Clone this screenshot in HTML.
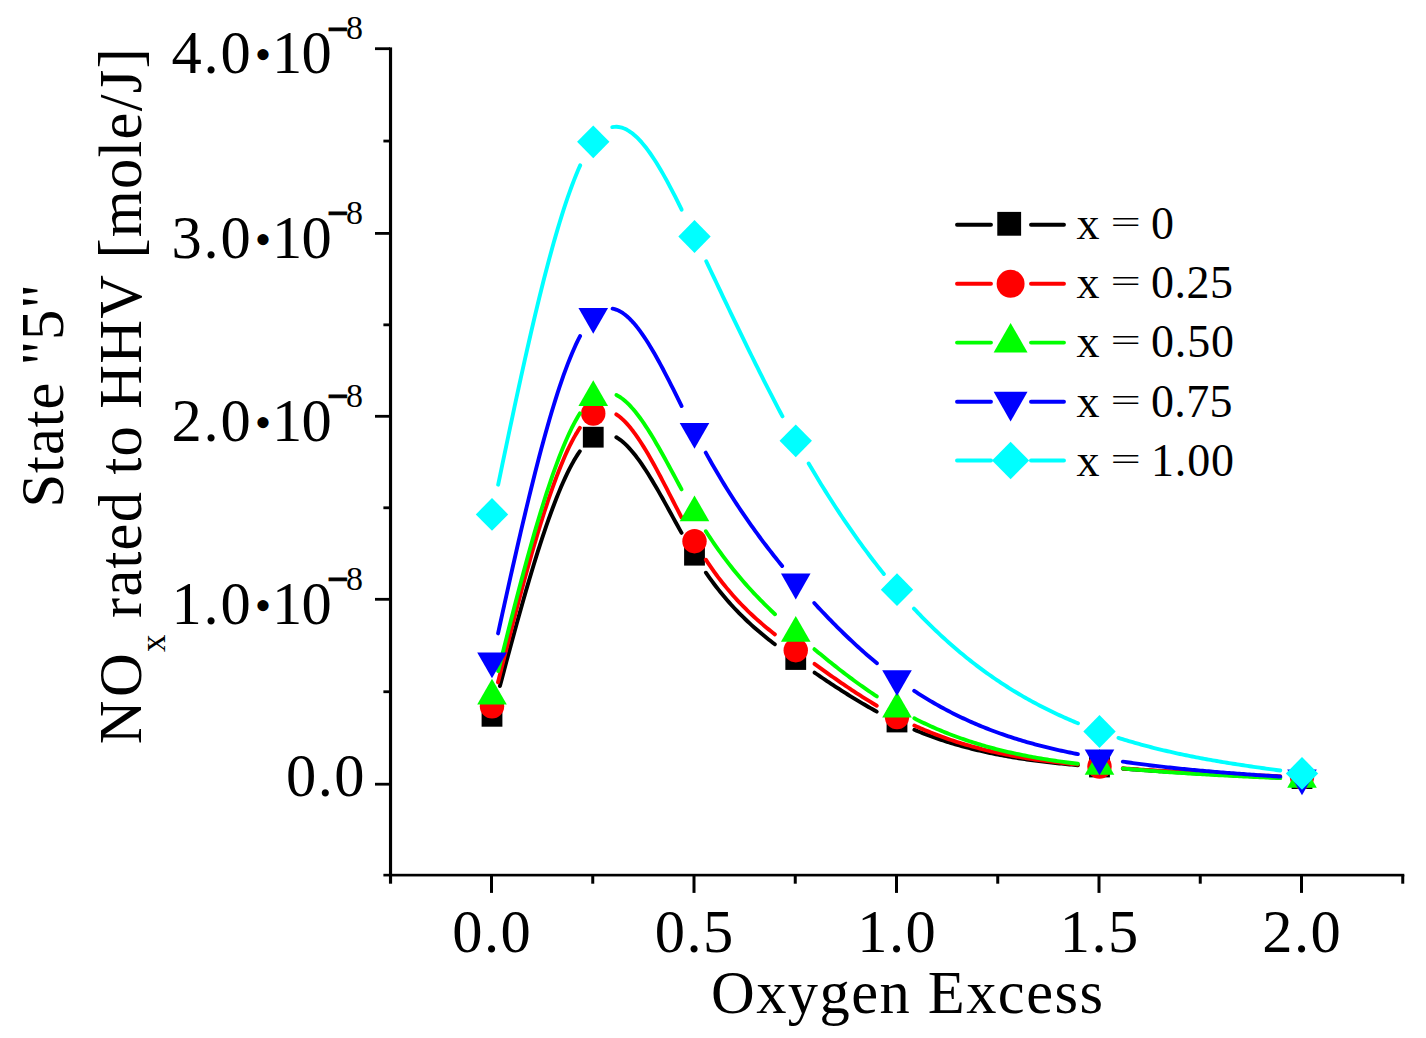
<!DOCTYPE html>
<html><head><meta charset="utf-8"><title>NOx rated to HHV vs Oxygen Excess</title>
<style>html,body{margin:0;padding:0;background:#fff;}body{width:1426px;height:1038px;overflow:hidden;font-family:"Liberation Serif",serif;}</style>
</head><body>
<svg width="1426" height="1038" viewBox="0 0 1426 1038" style="display:block">
<rect width="1426" height="1038" fill="#fff"/>
<g><rect x="388.95" y="47.4" width="3.15" height="836.3" fill="#000"/><rect x="383.4" y="873.8" width="1020.9" height="2.65" fill="#000"/><rect x="375" y="782.8" width="15" height="2.8" fill="#000"/><rect x="383.4" y="690.35" width="6" height="2.8" fill="#000"/><rect x="375" y="597.9" width="15" height="2.8" fill="#000"/><rect x="383.4" y="506.4" width="6" height="2.8" fill="#000"/><rect x="375" y="414.9" width="15" height="2.8" fill="#000"/><rect x="383.4" y="323.45" width="6" height="2.8" fill="#000"/><rect x="375" y="232" width="15" height="2.8" fill="#000"/><rect x="383.4" y="139.65" width="6" height="2.8" fill="#000"/><rect x="375" y="47.3" width="15" height="2.8" fill="#000"/><rect x="490" y="875" width="3" height="17.9" fill="#000"/><rect x="692.5" y="875" width="3" height="17.9" fill="#000"/><rect x="895" y="875" width="3" height="17.9" fill="#000"/><rect x="1097.5" y="875" width="3" height="17.9" fill="#000"/><rect x="1300" y="875" width="3" height="17.9" fill="#000"/><rect x="591.25" y="875" width="3" height="8.7" fill="#000"/><rect x="793.75" y="875" width="3" height="8.7" fill="#000"/><rect x="996.25" y="875" width="3" height="8.7" fill="#000"/><rect x="1198.75" y="875" width="3" height="8.7" fill="#000"/><rect x="1401.25" y="875" width="3" height="8.7" fill="#000"/></g>
<g><g fill="none" stroke-width="3.9" stroke-linecap="round" stroke-linejoin="round"><path d="M499.94,686.11 L502.04,678.15 L504.14,670.22 L506.24,662.32 L508.35,654.46 L510.45,646.64 L512.55,638.88 L514.66,631.17 L516.76,623.52 L518.86,615.94 L520.97,608.43 L523.07,601 L525.17,593.66 L527.27,586.4 L529.38,579.24 L531.48,572.19 L533.58,565.24 L535.69,558.41 L537.79,551.69 L539.89,545.1 L542,538.64 L544.1,532.32 L546.2,526.14 L548.3,520.11 L550.41,514.23 L552.51,508.51 L554.61,502.95 L556.72,497.57 L558.82,492.36 L560.92,487.33 L563.02,482.5 L565.13,477.85 L567.23,473.41 L569.33,469.17 L571.44,465.14 L573.54,461.33 L575.64,457.74 L577.75,454.38 L579.85,451.25" stroke="#000000"/><path d="M616.34,437.25 L618.44,438.58 L620.55,440.09 L622.65,441.78 L624.75,443.65 L626.86,445.68 L628.96,447.87 L631.06,450.21 L633.17,452.7 L635.27,455.33 L637.37,458.08 L639.48,460.96 L641.58,463.95 L643.69,467.05 L645.79,470.25 L647.89,473.54 L650,476.92 L652.1,480.38 L654.2,483.91 L656.31,487.5 L658.41,491.15 L660.51,494.84 L662.62,498.58 L664.72,502.35 L666.82,506.15 L668.93,509.97 L671.03,513.8 L673.13,517.64 L675.24,521.47 L677.34,525.3 L679.44,529.1 L681.55,532.89" stroke="#000000"/><path d="M705.9,572.71 L707.99,575.7 L710.08,578.62 L712.17,581.47 L714.26,584.26 L716.35,586.98 L718.44,589.65 L720.53,592.26 L722.61,594.81 L724.7,597.3 L726.79,599.74 L728.88,602.13 L730.97,604.46 L733.06,606.75 L735.15,608.99 L737.24,611.18 L739.33,613.32 L741.42,615.42 L743.51,617.48 L745.6,619.5 L747.68,621.48 L749.77,623.42 L751.86,625.32 L753.95,627.19 L756.04,629.02 L758.13,630.82 L760.22,632.6 L762.31,634.34 L764.4,636.05 L766.49,637.74 L768.58,639.41 L770.67,641.05 L772.75,642.67 L774.84,644.27" stroke="#000000"/><path d="M814.51,672.59 L816.58,674.02 L818.66,675.43 L820.73,676.84 L822.81,678.25 L824.89,679.64 L826.96,681.03 L829.04,682.42 L831.11,683.79 L833.19,685.16 L835.27,686.52 L837.34,687.87 L839.42,689.21 L841.49,690.54 L843.57,691.86 L845.65,693.18 L847.72,694.48 L849.8,695.78 L851.87,697.06 L853.95,698.34 L856.03,699.6 L858.1,700.85 L860.18,702.1 L862.25,703.33 L864.33,704.54 L866.41,705.75 L868.48,706.95 L870.56,708.13 L872.63,709.3 L874.71,710.45 L876.79,711.6" stroke="#000000"/><path d="M914.4,729.8 L916.44,730.65 L918.48,731.48 L920.52,732.3 L922.57,733.11 L924.61,733.9 L926.65,734.68 L928.7,735.45 L930.74,736.2 L932.78,736.94 L934.83,737.67 L936.87,738.39 L938.91,739.09 L940.96,739.78 L943,740.46 L945.04,741.12 L947.09,741.77 L949.13,742.42 L951.17,743.05 L953.22,743.67 L955.26,744.27 L957.3,744.87 L959.35,745.45 L961.39,746.03 L963.43,746.59 L965.48,747.14 L967.52,747.69 L969.56,748.22 L971.61,748.74 L973.65,749.25 L975.69,749.75 L977.74,750.24 L979.78,750.72 L981.82,751.2 L983.87,751.66 L985.91,752.11 L987.95,752.56 L990,752.99 L992.04,753.42 L994.08,753.84 L996.13,754.25 L998.17,754.65 L1000.21,755.04 L1002.26,755.42 L1004.3,755.8 L1006.34,756.17 L1008.39,756.53 L1010.43,756.88 L1012.47,757.23 L1014.52,757.57 L1016.56,757.9 L1018.6,758.22 L1020.65,758.54 L1022.69,758.85 L1024.73,759.15 L1026.78,759.45 L1028.82,759.74 L1030.86,760.03 L1032.91,760.31 L1034.95,760.58 L1036.99,760.85 L1039.04,761.11 L1041.08,761.37 L1043.12,761.62 L1045.16,761.86 L1047.21,762.11 L1049.25,762.34 L1051.29,762.57 L1053.34,762.8 L1055.38,763.02 L1057.42,763.24 L1059.47,763.45 L1061.51,763.66 L1063.55,763.87 L1065.6,764.07 L1067.64,764.27 L1069.68,764.46 L1071.73,764.66 L1073.77,764.84 L1075.81,765.03 L1077.86,765.21" stroke="#000000"/><path d="M1122.84,768.74 L1124.89,768.89 L1126.93,769.03 L1128.98,769.17 L1131.02,769.31 L1133.07,769.46 L1135.11,769.6 L1137.15,769.73 L1139.2,769.87 L1141.24,770.01 L1143.29,770.14 L1145.33,770.28 L1147.38,770.41 L1149.42,770.54 L1151.46,770.68 L1153.51,770.81 L1155.55,770.94 L1157.6,771.06 L1159.64,771.19 L1161.69,771.32 L1163.73,771.44 L1165.77,771.57 L1167.82,771.69 L1169.86,771.82 L1171.91,771.94 L1173.95,772.06 L1176,772.18 L1178.04,772.3 L1180.08,772.42 L1182.13,772.54 L1184.17,772.66 L1186.22,772.78 L1188.26,772.89 L1190.31,773.01 L1192.35,773.12 L1194.39,773.24 L1196.44,773.35 L1198.48,773.46 L1200.53,773.58 L1202.57,773.69 L1204.61,773.8 L1206.66,773.91 L1208.7,774.02 L1210.75,774.13 L1212.79,774.24 L1214.84,774.34 L1216.88,774.45 L1218.92,774.56 L1220.97,774.66 L1223.01,774.77 L1225.06,774.88 L1227.1,774.98 L1229.15,775.08 L1231.19,775.19 L1233.23,775.29 L1235.28,775.39 L1237.32,775.5 L1239.37,775.6 L1241.41,775.7 L1243.46,775.8 L1245.5,775.9 L1247.54,776 L1249.59,776.1 L1251.63,776.2 L1253.68,776.3 L1255.72,776.4 L1257.77,776.5 L1259.81,776.6 L1261.85,776.7 L1263.9,776.8 L1265.94,776.9 L1267.99,776.99 L1270.03,777.09 L1272.08,777.19 L1274.12,777.29 L1276.16,777.38 L1278.21,777.48 L1280.25,777.58" stroke="#000000"/></g><rect x="481.6" y="705.9" width="20.8" height="20.8" fill="#000000"/><rect x="582.85" y="426.8" width="20.8" height="20.8" fill="#000000"/><rect x="684.1" y="544.8" width="20.8" height="20.8" fill="#000000"/><rect x="785.35" y="649.1" width="20.8" height="20.8" fill="#000000"/><rect x="886.6" y="711.6" width="20.8" height="20.8" fill="#000000"/><rect x="1089.1" y="756.6" width="20.8" height="20.8" fill="#000000"/><rect x="1291.6" y="768.2" width="20.8" height="20.8" fill="#000000"/><g fill="none" stroke-width="3.9" stroke-linecap="round" stroke-linejoin="round"><path d="M497.99,682.31 L500.09,673.92 L502.19,665.56 L504.29,657.22 L506.39,648.92 L508.49,640.66 L510.59,632.45 L512.68,624.3 L514.78,616.2 L516.88,608.17 L518.98,600.21 L521.08,592.33 L523.18,584.53 L525.28,576.82 L527.38,569.21 L529.48,561.7 L531.58,554.3 L533.68,547.01 L535.78,539.85 L537.88,532.81 L539.98,525.9 L542.08,519.13 L544.18,512.51 L546.28,506.03 L548.38,499.72 L550.48,493.56 L552.58,487.58 L554.68,481.77 L556.78,476.14 L558.88,470.7 L560.98,465.45 L563.08,460.4 L565.18,455.56 L567.28,450.92 L569.38,446.51 L571.48,442.32 L573.58,438.36 L575.68,434.63 L577.78,431.14 L579.88,427.91" stroke="#ff0000"/><path d="M616.29,414.34 L618.4,415.81 L620.51,417.49 L622.61,419.35 L624.72,421.4 L626.83,423.63 L628.93,426.02 L631.04,428.58 L633.15,431.29 L635.25,434.14 L637.36,437.13 L639.46,440.25 L641.57,443.49 L643.68,446.84 L645.78,450.3 L647.89,453.86 L650,457.5 L652.1,461.23 L654.21,465.03 L656.32,468.9 L658.42,472.82 L660.53,476.79 L662.63,480.81 L664.74,484.86 L666.85,488.94 L668.95,493.03 L671.06,497.14 L673.17,501.25 L675.27,505.35 L677.38,509.44 L679.49,513.51 L681.59,517.55" stroke="#ff0000"/><path d="M705.86,559.68 L707.95,562.83 L710.04,565.91 L712.13,568.92 L714.22,571.86 L716.32,574.73 L718.41,577.54 L720.5,580.27 L722.59,582.95 L724.68,585.57 L726.77,588.12 L728.86,590.62 L730.95,593.06 L733.04,595.45 L735.13,597.79 L737.23,600.07 L739.32,602.31 L741.41,604.49 L743.5,606.63 L745.59,608.73 L747.68,610.79 L749.77,612.8 L751.86,614.77 L753.95,616.71 L756.04,618.61 L758.14,620.48 L760.23,622.32 L762.32,624.12 L764.41,625.9 L766.5,627.65 L768.59,629.37 L770.68,631.07 L772.77,632.74 L774.86,634.4" stroke="#ff0000"/><path d="M814.48,663.93 L816.56,665.43 L818.63,666.93 L820.71,668.43 L822.79,669.92 L824.87,671.4 L826.95,672.88 L829.02,674.35 L831.1,675.81 L833.18,677.27 L835.26,678.72 L837.34,680.16 L839.41,681.6 L841.49,683.03 L843.57,684.44 L845.65,685.85 L847.73,687.25 L849.8,688.64 L851.88,690.02 L853.96,691.4 L856.04,692.76 L858.12,694.11 L860.19,695.44 L862.27,696.77 L864.35,698.09 L866.43,699.39 L868.51,700.68 L870.58,701.96 L872.66,703.23 L874.74,704.48 L876.82,705.72" stroke="#ff0000"/><path d="M914.37,725.49 L916.41,726.42 L918.46,727.33 L920.5,728.23 L922.54,729.11 L924.59,729.98 L926.63,730.83 L928.67,731.67 L930.72,732.5 L932.76,733.31 L934.81,734.11 L936.85,734.89 L938.89,735.67 L940.94,736.42 L942.98,737.17 L945.02,737.9 L947.07,738.62 L949.11,739.33 L951.15,740.02 L953.2,740.7 L955.24,741.37 L957.29,742.03 L959.33,742.67 L961.37,743.31 L963.42,743.93 L965.46,744.54 L967.5,745.14 L969.55,745.72 L971.59,746.3 L973.63,746.87 L975.68,747.42 L977.72,747.96 L979.77,748.5 L981.81,749.02 L983.85,749.53 L985.9,750.04 L987.94,750.53 L989.98,751.01 L992.03,751.49 L994.07,751.95 L996.11,752.41 L998.16,752.85 L1000.2,753.29 L1002.24,753.71 L1004.29,754.13 L1006.33,754.54 L1008.38,754.94 L1010.42,755.34 L1012.46,755.72 L1014.51,756.1 L1016.55,756.47 L1018.59,756.83 L1020.64,757.18 L1022.68,757.53 L1024.72,757.87 L1026.77,758.2 L1028.81,758.52 L1030.86,758.84 L1032.9,759.15 L1034.94,759.46 L1036.99,759.76 L1039.03,760.05 L1041.07,760.33 L1043.12,760.61 L1045.16,760.89 L1047.2,761.15 L1049.25,761.41 L1051.29,761.67 L1053.34,761.92 L1055.38,762.17 L1057.42,762.41 L1059.47,762.65 L1061.51,762.88 L1063.55,763.1 L1065.6,763.33 L1067.64,763.55 L1069.68,763.76 L1071.73,763.97 L1073.77,764.18 L1075.82,764.38 L1077.86,764.58" stroke="#ff0000"/><path d="M1122.84,768.31 L1124.89,768.46 L1126.93,768.6 L1128.98,768.75 L1131.02,768.89 L1133.07,769.03 L1135.11,769.17 L1137.15,769.31 L1139.2,769.44 L1141.24,769.58 L1143.29,769.71 L1145.33,769.84 L1147.38,769.97 L1149.42,770.1 L1151.46,770.23 L1153.51,770.36 L1155.55,770.48 L1157.6,770.6 L1159.64,770.73 L1161.69,770.85 L1163.73,770.97 L1165.77,771.08 L1167.82,771.2 L1169.86,771.32 L1171.91,771.43 L1173.95,771.54 L1176,771.65 L1178.04,771.76 L1180.08,771.87 L1182.13,771.98 L1184.17,772.09 L1186.22,772.2 L1188.26,772.3 L1190.3,772.4 L1192.35,772.51 L1194.39,772.61 L1196.44,772.71 L1198.48,772.81 L1200.53,772.91 L1202.57,773.01 L1204.61,773.1 L1206.66,773.2 L1208.7,773.29 L1210.75,773.39 L1212.79,773.48 L1214.84,773.57 L1216.88,773.66 L1218.92,773.76 L1220.97,773.85 L1223.01,773.93 L1225.06,774.02 L1227.1,774.11 L1229.15,774.2 L1231.19,774.28 L1233.23,774.37 L1235.28,774.46 L1237.32,774.54 L1239.37,774.62 L1241.41,774.71 L1243.45,774.79 L1245.5,774.87 L1247.54,774.95 L1249.59,775.03 L1251.63,775.12 L1253.68,775.2 L1255.72,775.28 L1257.76,775.35 L1259.81,775.43 L1261.85,775.51 L1263.9,775.59 L1265.94,775.67 L1267.99,775.74 L1270.03,775.82 L1272.07,775.9 L1274.12,775.98 L1276.16,776.05 L1278.21,776.13 L1280.25,776.2" stroke="#ff0000"/></g><circle cx="492" cy="706.3" r="12.2" fill="#ff0000"/><circle cx="593.25" cy="413.5" r="12.2" fill="#ff0000"/><circle cx="694.5" cy="541.2" r="12.2" fill="#ff0000"/><circle cx="795.75" cy="650.2" r="12.2" fill="#ff0000"/><circle cx="897" cy="717" r="12.2" fill="#ff0000"/><circle cx="1099.5" cy="766.5" r="12.2" fill="#ff0000"/><circle cx="1302" cy="777" r="12.2" fill="#ff0000"/><g fill="none" stroke-width="3.9" stroke-linecap="round" stroke-linejoin="round"><path d="M498.18,671.11 L500.28,662.69 L502.37,654.3 L504.47,645.93 L506.56,637.6 L508.66,629.32 L510.76,621.07 L512.85,612.88 L514.95,604.75 L517.04,596.68 L519.14,588.68 L521.24,580.76 L523.33,572.92 L525.43,565.17 L527.53,557.51 L529.62,549.94 L531.72,542.49 L533.81,535.14 L535.91,527.91 L538.01,520.8 L540.1,513.82 L542.2,506.98 L544.29,500.27 L546.39,493.71 L548.49,487.31 L550.58,481.06 L552.68,474.97 L554.77,469.05 L556.87,463.31 L558.97,457.75 L561.06,452.37 L563.16,447.19 L565.26,442.2 L567.35,437.42 L569.45,432.85 L571.54,428.49 L573.64,424.36 L575.74,420.45 L577.83,416.78 L579.93,413.35" stroke="#00ff00"/><path d="M616.4,395.02 L618.5,396.17 L620.61,397.51 L622.71,399.04 L624.81,400.76 L626.91,402.64 L629.02,404.7 L631.12,406.92 L633.22,409.29 L635.32,411.8 L637.42,414.46 L639.53,417.24 L641.63,420.15 L643.73,423.18 L645.83,426.32 L647.94,429.56 L650.04,432.89 L652.14,436.31 L654.24,439.82 L656.34,443.39 L658.45,447.03 L660.55,450.74 L662.65,454.49 L664.75,458.29 L666.85,462.12 L668.96,465.99 L671.06,469.87 L673.16,473.78 L675.26,477.69 L677.37,481.6 L679.47,485.5 L681.57,489.39" stroke="#00ff00"/><path d="M705.85,531.2 L707.94,534.44 L710.04,537.62 L712.13,540.75 L714.22,543.82 L716.32,546.84 L718.41,549.81 L720.51,552.72 L722.6,555.58 L724.7,558.4 L726.79,561.16 L728.89,563.88 L730.98,566.56 L733.08,569.19 L735.17,571.77 L737.27,574.32 L739.36,576.82 L741.46,579.28 L743.55,581.71 L745.65,584.1 L747.74,586.45 L749.84,588.76 L751.93,591.05 L754.03,593.3 L756.12,595.51 L758.22,597.7 L760.31,599.86 L762.41,601.99 L764.5,604.1 L766.6,606.18 L768.69,608.23 L770.79,610.26 L772.88,612.27 L774.98,614.26" stroke="#00ff00"/><path d="M814.39,649.14 L816.47,650.89 L818.55,652.63 L820.64,654.36 L822.72,656.07 L824.8,657.78 L826.89,659.47 L828.97,661.16 L831.05,662.83 L833.13,664.5 L835.22,666.15 L837.3,667.78 L839.38,669.41 L841.46,671.03 L843.55,672.63 L845.63,674.22 L847.71,675.8 L849.79,677.36 L851.88,678.91 L853.96,680.45 L856.04,681.97 L858.12,683.49 L860.21,684.98 L862.29,686.46 L864.37,687.93 L866.45,689.39 L868.54,690.82 L870.62,692.25 L872.7,693.66 L874.78,695.05 L876.87,696.43" stroke="#00ff00"/><path d="M914.33,718.35 L916.38,719.39 L918.42,720.41 L920.46,721.41 L922.51,722.4 L924.55,723.38 L926.6,724.34 L928.64,725.28 L930.68,726.21 L932.73,727.13 L934.77,728.03 L936.82,728.92 L938.86,729.79 L940.91,730.65 L942.95,731.49 L944.99,732.32 L947.04,733.14 L949.08,733.95 L951.13,734.74 L953.17,735.51 L955.21,736.28 L957.26,737.03 L959.3,737.77 L961.35,738.49 L963.39,739.2 L965.44,739.9 L967.48,740.59 L969.52,741.27 L971.57,741.93 L973.61,742.59 L975.66,743.23 L977.7,743.86 L979.74,744.48 L981.79,745.08 L983.83,745.68 L985.88,746.27 L987.92,746.84 L989.97,747.41 L992.01,747.96 L994.05,748.5 L996.1,749.04 L998.14,749.56 L1000.19,750.07 L1002.23,750.58 L1004.27,751.07 L1006.32,751.56 L1008.36,752.03 L1010.41,752.5 L1012.45,752.96 L1014.5,753.41 L1016.54,753.85 L1018.58,754.28 L1020.63,754.7 L1022.67,755.12 L1024.72,755.53 L1026.76,755.93 L1028.8,756.32 L1030.85,756.7 L1032.89,757.08 L1034.94,757.45 L1036.98,757.81 L1039.02,758.17 L1041.07,758.51 L1043.11,758.86 L1045.16,759.19 L1047.2,759.52 L1049.25,759.84 L1051.29,760.16 L1053.33,760.47 L1055.38,760.77 L1057.42,761.07 L1059.47,761.36 L1061.51,761.65 L1063.55,761.93 L1065.6,762.21 L1067.64,762.48 L1069.69,762.75 L1071.73,763.01 L1073.78,763.27 L1075.82,763.53 L1077.86,763.78" stroke="#00ff00"/><path d="M1122.84,768.47 L1124.89,768.66 L1126.93,768.84 L1128.97,769.02 L1131.02,769.2 L1133.06,769.38 L1135.11,769.55 L1137.15,769.72 L1139.2,769.89 L1141.24,770.06 L1143.28,770.23 L1145.33,770.39 L1147.37,770.55 L1149.42,770.72 L1151.46,770.87 L1153.51,771.03 L1155.55,771.18 L1157.59,771.34 L1159.64,771.49 L1161.68,771.64 L1163.73,771.79 L1165.77,771.93 L1167.82,772.08 L1169.86,772.22 L1171.9,772.36 L1173.95,772.5 L1175.99,772.64 L1178.04,772.77 L1180.08,772.91 L1182.13,773.04 L1184.17,773.17 L1186.21,773.3 L1188.26,773.43 L1190.3,773.56 L1192.35,773.68 L1194.39,773.81 L1196.44,773.93 L1198.48,774.05 L1200.52,774.17 L1202.57,774.29 L1204.61,774.41 L1206.66,774.53 L1208.7,774.64 L1210.75,774.76 L1212.79,774.87 L1214.83,774.98 L1216.88,775.1 L1218.92,775.21 L1220.97,775.32 L1223.01,775.42 L1225.06,775.53 L1227.1,775.64 L1229.14,775.74 L1231.19,775.85 L1233.23,775.95 L1235.28,776.05 L1237.32,776.16 L1239.37,776.26 L1241.41,776.36 L1243.45,776.46 L1245.5,776.56 L1247.54,776.65 L1249.59,776.75 L1251.63,776.85 L1253.68,776.94 L1255.72,777.04 L1257.76,777.13 L1259.81,777.23 L1261.85,777.32 L1263.9,777.42 L1265.94,777.51 L1267.99,777.6 L1270.03,777.69 L1272.07,777.79 L1274.12,777.88 L1276.16,777.97 L1278.21,778.06 L1280.25,778.15" stroke="#00ff00"/></g><polygon points="492,678.8 477.2,704.6 506.8,704.6" fill="#00ff00"/><polygon points="593.25,380.3 578.45,406.1 608.05,406.1" fill="#00ff00"/><polygon points="694.5,495.4 679.7,521.2 709.3,521.2" fill="#00ff00"/><polygon points="795.75,615.9 780.95,641.7 810.55,641.7" fill="#00ff00"/><polygon points="897,691.7 882.2,717.5 911.8,717.5" fill="#00ff00"/><polygon points="1099.5,749 1084.7,774.8 1114.3,774.8" fill="#00ff00"/><polygon points="1302,761.9 1287.2,787.7 1316.8,787.7" fill="#00ff00"/><g fill="none" stroke-width="3.9" stroke-linecap="round" stroke-linejoin="round"><path d="M498.05,633.4 L500.1,624.03 L502.15,614.69 L504.2,605.37 L506.25,596.1 L508.3,586.86 L510.35,577.67 L512.4,568.54 L514.45,559.46 L516.5,550.45 L518.55,541.51 L520.6,532.65 L522.65,523.87 L524.71,515.19 L526.76,506.59 L528.81,498.1 L530.86,489.71 L532.91,481.44 L534.96,473.29 L537.01,465.26 L539.06,457.36 L541.11,449.6 L543.16,441.98 L545.21,434.51 L547.26,427.2 L549.31,420.05 L551.36,413.06 L553.41,406.24 L555.46,399.61 L557.51,393.16 L559.56,386.9 L561.62,380.84 L563.67,374.98 L565.72,369.32 L567.77,363.89 L569.82,358.67 L571.87,353.68 L573.92,348.92 L575.97,344.4 L578.02,340.12 L580.07,336.1" stroke="#0000ff"/><path d="M612.55,308.66 L614.64,309.12 L616.73,309.82 L618.83,310.73 L620.92,311.87 L623.01,313.22 L625.11,314.76 L627.2,316.51 L629.29,318.44 L631.39,320.55 L633.48,322.83 L635.58,325.28 L637.67,327.88 L639.76,330.64 L641.86,333.54 L643.95,336.58 L646.04,339.74 L648.14,343.03 L650.23,346.43 L652.32,349.93 L654.42,353.54 L656.51,357.23 L658.6,361.01 L660.7,364.87 L662.79,368.79 L664.88,372.78 L666.98,376.83 L669.07,380.92 L671.17,385.05 L673.26,389.21 L675.35,393.4 L677.45,397.6 L679.54,401.82 L681.63,406.04" stroke="#0000ff"/><path d="M705.74,452.66 L707.8,456.38 L709.87,460.06 L711.93,463.69 L714,467.28 L716.07,470.83 L718.13,474.34 L720.2,477.81 L722.26,481.24 L724.33,484.62 L726.39,487.97 L728.46,491.28 L730.52,494.55 L732.59,497.79 L734.66,500.99 L736.72,504.15 L738.79,507.28 L740.85,510.37 L742.92,513.43 L744.98,516.46 L747.05,519.45 L749.11,522.41 L751.18,525.34 L753.25,528.24 L755.31,531.11 L757.38,533.95 L759.44,536.77 L761.51,539.55 L763.57,542.31 L765.64,545.04 L767.7,547.74 L769.77,550.42 L771.84,553.07 L773.9,555.7 L775.97,558.31 L778.03,560.89 L780.1,563.45 L782.16,565.99" stroke="#0000ff"/><path d="M814.21,603.02 L816.31,605.3 L818.4,607.56 L820.49,609.79 L822.58,612.02 L824.68,614.22 L826.77,616.4 L828.86,618.57 L830.95,620.72 L833.05,622.85 L835.14,624.96 L837.23,627.06 L839.32,629.13 L841.42,631.19 L843.51,633.23 L845.6,635.25 L847.69,637.25 L849.79,639.24 L851.88,641.2 L853.97,643.15 L856.07,645.07 L858.16,646.98 L860.25,648.87 L862.34,650.74 L864.44,652.59 L866.53,654.42 L868.62,656.24 L870.71,658.03 L872.81,659.81 L874.9,661.56 L876.99,663.3" stroke="#0000ff"/><path d="M914.22,690.88 L916.27,692.22 L918.32,693.54 L920.36,694.84 L922.41,696.13 L924.45,697.39 L926.5,698.64 L928.54,699.88 L930.59,701.09 L932.64,702.29 L934.68,703.47 L936.73,704.64 L938.77,705.79 L940.82,706.92 L942.86,708.04 L944.91,709.15 L946.96,710.23 L949,711.3 L951.05,712.36 L953.09,713.4 L955.14,714.42 L957.18,715.43 L959.23,716.43 L961.28,717.41 L963.32,718.38 L965.37,719.33 L967.41,720.27 L969.46,721.19 L971.51,722.1 L973.55,723 L975.6,723.88 L977.64,724.75 L979.69,725.61 L981.73,726.45 L983.78,727.28 L985.83,728.1 L987.87,728.91 L989.92,729.7 L991.96,730.48 L994.01,731.25 L996.05,732.01 L998.1,732.75 L1000.15,733.48 L1002.19,734.2 L1004.24,734.91 L1006.28,735.61 L1008.33,736.3 L1010.37,736.97 L1012.42,737.64 L1014.47,738.29 L1016.51,738.94 L1018.56,739.57 L1020.6,740.2 L1022.65,740.81 L1024.69,741.41 L1026.74,742.01 L1028.79,742.59 L1030.83,743.16 L1032.88,743.73 L1034.92,744.29 L1036.97,744.83 L1039.02,745.37 L1041.06,745.9 L1043.11,746.42 L1045.15,746.94 L1047.2,747.44 L1049.24,747.94 L1051.29,748.42 L1053.34,748.9 L1055.38,749.38 L1057.43,749.84 L1059.47,750.3 L1061.52,750.75 L1063.56,751.2 L1065.61,751.63 L1067.66,752.06 L1069.7,752.49 L1071.75,752.9 L1073.79,753.31 L1075.84,753.72 L1077.88,754.12" stroke="#0000ff"/><path d="M1122.83,761.64 L1124.87,761.93 L1126.92,762.22 L1128.96,762.51 L1131.01,762.79 L1133.05,763.07 L1135.1,763.35 L1137.14,763.62 L1139.19,763.89 L1141.23,764.16 L1143.27,764.42 L1145.32,764.68 L1147.36,764.94 L1149.41,765.19 L1151.45,765.44 L1153.5,765.69 L1155.54,765.93 L1157.59,766.17 L1159.63,766.41 L1161.67,766.64 L1163.72,766.87 L1165.76,767.1 L1167.81,767.33 L1169.85,767.55 L1171.9,767.77 L1173.94,767.99 L1175.99,768.2 L1178.03,768.41 L1180.07,768.62 L1182.12,768.83 L1184.16,769.03 L1186.21,769.24 L1188.25,769.43 L1190.3,769.63 L1192.34,769.83 L1194.39,770.02 L1196.43,770.21 L1198.48,770.4 L1200.52,770.58 L1202.56,770.77 L1204.61,770.95 L1206.65,771.13 L1208.7,771.3 L1210.74,771.48 L1212.79,771.65 L1214.83,771.82 L1216.88,771.99 L1218.92,772.16 L1220.96,772.33 L1223.01,772.49 L1225.05,772.66 L1227.1,772.82 L1229.14,772.98 L1231.19,773.14 L1233.23,773.29 L1235.28,773.45 L1237.32,773.6 L1239.36,773.76 L1241.41,773.91 L1243.45,774.06 L1245.5,774.21 L1247.54,774.35 L1249.59,774.5 L1251.63,774.65 L1253.68,774.79 L1255.72,774.93 L1257.76,775.08 L1259.81,775.22 L1261.85,775.36 L1263.9,775.5 L1265.94,775.64 L1267.99,775.77 L1270.03,775.91 L1272.08,776.05 L1274.12,776.18 L1276.17,776.32 L1278.21,776.45 L1280.25,776.59" stroke="#0000ff"/></g><polygon points="492,678.3 477.2,652.5 506.8,652.5" fill="#0000ff"/><polygon points="593.25,333.8 578.45,308 608.05,308" fill="#0000ff"/><polygon points="694.5,448.8 679.7,423 709.3,423" fill="#0000ff"/><polygon points="795.75,599.4 780.95,573.6 810.55,573.6" fill="#0000ff"/><polygon points="897,696.1 882.2,670.3 911.8,670.3" fill="#0000ff"/><polygon points="1099.5,775.2 1084.7,749.4 1114.3,749.4" fill="#0000ff"/><polygon points="1302,795.2 1287.2,769.4 1316.8,769.4" fill="#0000ff"/><g fill="none" stroke-width="3.9" stroke-linecap="round" stroke-linejoin="round"><path d="M498.16,484.69 L500.21,474.82 L502.26,464.97 L504.31,455.15 L506.36,445.37 L508.41,435.63 L510.46,425.93 L512.51,416.29 L514.56,406.7 L516.61,397.18 L518.66,387.73 L520.71,378.35 L522.76,369.06 L524.81,359.85 L526.86,350.73 L528.92,341.71 L530.97,332.8 L533.02,324 L535.07,315.32 L537.12,306.75 L539.17,298.32 L541.22,290.01 L543.27,281.85 L545.32,273.83 L547.37,265.97 L549.42,258.26 L551.47,250.71 L553.52,243.33 L555.57,236.13 L557.62,229.1 L559.68,222.27 L561.73,215.62 L563.78,209.17 L565.83,202.92 L567.88,196.89 L569.93,191.07 L571.98,185.46 L574.03,180.09 L576.08,174.95 L578.13,170.04 L580.18,165.38" stroke="#00ffff"/><path d="M612.26,127.16 L614.37,126.86 L616.47,126.79 L618.57,126.96 L620.67,127.36 L622.78,127.97 L624.88,128.81 L626.98,129.84 L629.08,131.09 L631.19,132.52 L633.29,134.15 L635.39,135.96 L637.49,137.95 L639.6,140.11 L641.7,142.43 L643.8,144.92 L645.9,147.55 L648.01,150.33 L650.11,153.25 L652.21,156.31 L654.31,159.49 L656.42,162.8 L658.52,166.22 L660.62,169.75 L662.72,173.38 L664.83,177.11 L666.93,180.93 L669.03,184.83 L671.13,188.81 L673.24,192.86 L675.34,196.98 L677.44,201.16 L679.54,205.4 L681.65,209.68" stroke="#00ffff"/><path d="M706.23,261.28 L708.29,265.64 L710.36,269.99 L712.42,274.34 L714.48,278.69 L716.54,283.03 L718.6,287.37 L720.66,291.71 L722.72,296.04 L724.78,300.36 L726.84,304.68 L728.9,308.99 L730.96,313.29 L733.02,317.59 L735.09,321.87 L737.15,326.15 L739.21,330.41 L741.27,334.66 L743.33,338.9 L745.39,343.13 L747.45,347.35 L749.51,351.55 L751.57,355.74 L753.63,359.91 L755.69,364.06 L757.75,368.2 L759.81,372.33 L761.88,376.43 L763.94,380.52 L766,384.59 L768.06,388.64 L770.12,392.66 L772.18,396.67 L774.24,400.66 L776.3,404.62 L778.36,408.56 L780.42,412.47 L782.48,416.37" stroke="#00ffff"/><path d="M808.68,463.49 L810.77,467.05 L812.86,470.57 L814.95,474.08 L817.04,477.55 L819.12,480.99 L821.21,484.4 L823.3,487.79 L825.39,491.14 L827.48,494.47 L829.57,497.77 L831.66,501.04 L833.74,504.29 L835.83,507.5 L837.92,510.69 L840.01,513.85 L842.1,516.98 L844.19,520.09 L846.28,523.16 L848.36,526.21 L850.45,529.23 L852.54,532.23 L854.63,535.2 L856.72,538.14 L858.81,541.05 L860.9,543.94 L862.98,546.8 L865.07,549.63 L867.16,552.44 L869.25,555.22 L871.34,557.97 L873.43,560.7 L875.52,563.4 L877.6,566.08 L879.69,568.73 L881.78,571.35 L883.87,573.95" stroke="#00ffff"/><path d="M913.93,608.56 L915.95,610.71 L917.98,612.84 L920,614.95 L922.03,617.03 L924.06,619.09 L926.08,621.14 L928.11,623.16 L930.13,625.15 L932.16,627.13 L934.18,629.09 L936.21,631.02 L938.23,632.94 L940.26,634.83 L942.29,636.71 L944.31,638.56 L946.34,640.4 L948.36,642.21 L950.39,644 L952.41,645.78 L954.44,647.53 L956.46,649.27 L958.49,650.98 L960.51,652.68 L962.54,654.36 L964.57,656.02 L966.59,657.66 L968.62,659.28 L970.64,660.88 L972.67,662.47 L974.69,664.03 L976.72,665.58 L978.74,667.11 L980.77,668.63 L982.79,670.12 L984.82,671.6 L986.85,673.06 L988.87,674.5 L990.9,675.93 L992.92,677.34 L994.95,678.74 L996.97,680.11 L999,681.47 L1001.02,682.82 L1003.05,684.15 L1005.07,685.46 L1007.1,686.75 L1009.13,688.04 L1011.15,689.3 L1013.18,690.55 L1015.2,691.78 L1017.23,693 L1019.25,694.21 L1021.28,695.4 L1023.3,696.57 L1025.33,697.73 L1027.36,698.88 L1029.38,700.01 L1031.41,701.13 L1033.43,702.23 L1035.46,703.32 L1037.48,704.4 L1039.51,705.46 L1041.53,706.51 L1043.56,707.55 L1045.58,708.57 L1047.61,709.58 L1049.64,710.58 L1051.66,711.56 L1053.69,712.54 L1055.71,713.5 L1057.74,714.44 L1059.76,715.38 L1061.79,716.3 L1063.81,717.22 L1065.84,718.12 L1067.86,719 L1069.89,719.88 L1071.92,720.75 L1073.94,721.6 L1075.97,722.45 L1077.99,723.28" stroke="#00ffff"/><path d="M1118.46,737.88 L1120.51,738.52 L1122.55,739.16 L1124.6,739.79 L1126.65,740.41 L1128.7,741.02 L1130.75,741.62 L1132.79,742.22 L1134.84,742.81 L1136.89,743.39 L1138.94,743.96 L1140.99,744.53 L1143.04,745.08 L1145.08,745.64 L1147.13,746.18 L1149.18,746.71 L1151.23,747.24 L1153.28,747.77 L1155.33,748.28 L1157.37,748.79 L1159.42,749.29 L1161.47,749.79 L1163.52,750.28 L1165.57,750.76 L1167.61,751.24 L1169.66,751.71 L1171.71,752.17 L1173.76,752.63 L1175.81,753.08 L1177.86,753.53 L1179.9,753.97 L1181.95,754.4 L1184,754.83 L1186.05,755.25 L1188.1,755.67 L1190.15,756.09 L1192.19,756.49 L1194.24,756.9 L1196.29,757.3 L1198.34,757.69 L1200.39,758.08 L1202.43,758.46 L1204.48,758.84 L1206.53,759.22 L1208.58,759.59 L1210.63,759.95 L1212.68,760.31 L1214.72,760.67 L1216.77,761.03 L1218.82,761.38 L1220.87,761.72 L1222.92,762.06 L1224.97,762.4 L1227.01,762.74 L1229.06,763.07 L1231.11,763.4 L1233.16,763.72 L1235.21,764.05 L1237.25,764.36 L1239.3,764.68 L1241.35,764.99 L1243.4,765.3 L1245.45,765.61 L1247.5,765.91 L1249.54,766.22 L1251.59,766.52 L1253.64,766.81 L1255.69,767.11 L1257.74,767.4 L1259.78,767.69 L1261.83,767.98 L1263.88,768.27 L1265.93,768.56 L1267.98,768.84 L1270.03,769.12 L1272.07,769.4 L1274.12,769.68 L1276.17,769.96 L1278.22,770.24 L1280.27,770.51" stroke="#00ffff"/></g><polygon points="492,498 508.2,514.4 492,530.8 475.8,514.4" fill="#00ffff"/><polygon points="593.25,125.4 609.45,141.8 593.25,158.2 577.05,141.8" fill="#00ffff"/><polygon points="694.5,220.1 710.7,236.5 694.5,252.9 678.3,236.5" fill="#00ffff"/><polygon points="795.75,424.4 811.95,440.8 795.75,457.2 779.55,440.8" fill="#00ffff"/><polygon points="897,573.3 913.2,589.7 897,606.1 880.8,589.7" fill="#00ffff"/><polygon points="1099.5,715.1 1115.7,731.5 1099.5,747.9 1083.3,731.5" fill="#00ffff"/><polygon points="1302,757 1318.2,773.4 1302,789.8 1285.8,773.4" fill="#00ffff"/></g>
<g font-family="Liberation Serif, serif" fill="#000"><text x="366" y="796.3" font-size="60.5" text-anchor="end" letter-spacing="1.5">0.0</text><text x="171.5" y="623.8" font-size="60.5" letter-spacing="1.8">1.0</text><text x="254.7" y="620.6" font-size="47">•</text><text x="272" y="623.8" font-size="60.5" letter-spacing="-0.8">10</text><text x="327" y="592.3" font-size="38" font-weight="bold" stroke="#000" stroke-width="0.9">−</text><text x="346" y="590" font-size="34">8</text><text x="171.5" y="440.8" font-size="60.5" letter-spacing="1.8">2.0</text><text x="254.7" y="437.6" font-size="47">•</text><text x="272" y="440.8" font-size="60.5" letter-spacing="-0.8">10</text><text x="327" y="409.3" font-size="38" font-weight="bold" stroke="#000" stroke-width="0.9">−</text><text x="346" y="407" font-size="34">8</text><text x="171.5" y="257.9" font-size="60.5" letter-spacing="1.8">3.0</text><text x="254.7" y="254.7" font-size="47">•</text><text x="272" y="257.9" font-size="60.5" letter-spacing="-0.8">10</text><text x="327" y="226.4" font-size="38" font-weight="bold" stroke="#000" stroke-width="0.9">−</text><text x="346" y="224.1" font-size="34">8</text><text x="171.5" y="73.2" font-size="60.5" letter-spacing="1.8">4.0</text><text x="254.7" y="70" font-size="47">•</text><text x="272" y="73.2" font-size="60.5" letter-spacing="-0.8">10</text><text x="327" y="41.7" font-size="38" font-weight="bold" stroke="#000" stroke-width="0.9">−</text><text x="346" y="39.4" font-size="34">8</text><text x="492.2" y="951.9" font-size="60.5" text-anchor="middle" letter-spacing="1.5">0.0</text><text x="694.7" y="951.9" font-size="60.5" text-anchor="middle" letter-spacing="1.5">0.5</text><text x="897.2" y="951.9" font-size="60.5" text-anchor="middle" letter-spacing="1.5">1.0</text><text x="1099.7" y="951.9" font-size="60.5" text-anchor="middle" letter-spacing="1.5">1.5</text><text x="1302.2" y="951.9" font-size="60.5" text-anchor="middle" letter-spacing="1.5">2.0</text><text x="711" y="1012.8" font-size="60.5" textLength="392" lengthAdjust="spacing">Oxygen Excess</text><text transform="translate(62.7,507.5) rotate(-90)" font-size="60.5" textLength="223.5" lengthAdjust="spacing">State "5"</text><text transform="translate(141,744.3) rotate(-90)" font-size="60.5" textLength="91" lengthAdjust="spacing">NO</text><text transform="translate(165,652) rotate(-90)" font-size="35">x</text><text transform="translate(141,634.3) rotate(-90)" font-size="60.5" textLength="586" lengthAdjust="spacing" xml:space="preserve"> rated to HHV [mole/J]</text></g>
<g font-family="Liberation Serif, serif" fill="#000"><path d="M957,224.8 L991,224.8 M1031,224.8 L1064,224.8" stroke="#000000" stroke-width="3.9" stroke-linecap="round" fill="none"/><rect x="997.29" y="211.89" width="23.82" height="23.82" fill="#000000"/><text x="1076.5" y="239" font-size="46">x</text><text transform="translate(1110.6,233.1) scale(1.17,0.7)" font-size="46">=</text><text x="1151" y="239" font-size="46" textLength="23" lengthAdjust="spacing">0</text><path d="M957,283.8 L991,283.8 M1031,283.8 L1064,283.8" stroke="#ff0000" stroke-width="3.9" stroke-linecap="round" fill="none"/><circle cx="1010.6" cy="283.8" r="13.97" fill="#ff0000"/><text x="1076.5" y="298.2" font-size="46">x</text><text transform="translate(1110.6,292.3) scale(1.17,0.7)" font-size="46">=</text><text x="1151" y="298.2" font-size="46" textLength="82" lengthAdjust="spacing">0.25</text><path d="M957,342.6 L991,342.6 M1031,342.6 L1064,342.6" stroke="#00ff00" stroke-width="3.9" stroke-linecap="round" fill="none"/><polygon points="1010.6,322.91 993.65,352.45 1027.55,352.45" fill="#00ff00"/><text x="1076.5" y="357.3" font-size="46">x</text><text transform="translate(1110.6,351.4) scale(1.17,0.7)" font-size="46">=</text><text x="1151" y="357.3" font-size="46" textLength="83" lengthAdjust="spacing">0.50</text><path d="M957,401.7 L991,401.7 M1031,401.7 L1064,401.7" stroke="#0000ff" stroke-width="3.9" stroke-linecap="round" fill="none"/><polygon points="1010.6,421.39 993.65,391.85 1027.55,391.85" fill="#0000ff"/><text x="1076.5" y="417.2" font-size="46">x</text><text transform="translate(1110.6,411.3) scale(1.17,0.7)" font-size="46">=</text><text x="1151" y="417.2" font-size="46" textLength="81.5" lengthAdjust="spacing">0.75</text><path d="M957,460.5 L991,460.5 M1031,460.5 L1064,460.5" stroke="#00ffff" stroke-width="3.9" stroke-linecap="round" fill="none"/><polygon points="1010.6,441.72 1029.15,460.5 1010.6,479.28 992.05,460.5" fill="#00ffff"/><text x="1076.5" y="476.2" font-size="46">x</text><text transform="translate(1110.6,470.3) scale(1.17,0.7)" font-size="46">=</text><text x="1151" y="476.2" font-size="46" textLength="83" lengthAdjust="spacing">1.00</text></g>
</svg>
</body></html>
